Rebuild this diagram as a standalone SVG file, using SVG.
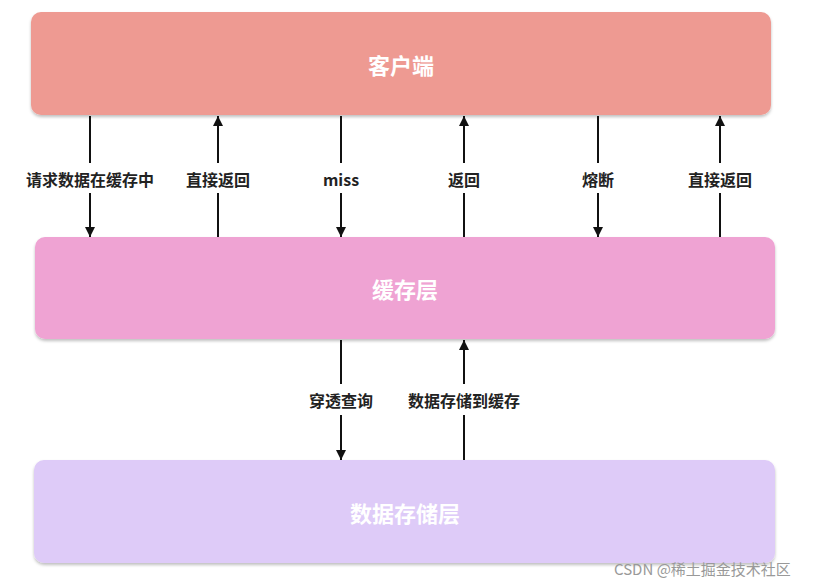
<svg xmlns="http://www.w3.org/2000/svg" width="816" height="586" viewBox="0 0 816 586">
<style>
.box{stroke:none}
.t{font-family:"Noto Sans CJK SC","Noto Sans",sans-serif;font-size:22px;font-weight:bold;fill:#fff;text-anchor:middle;dominant-baseline:central}
.l{font-family:"Noto Sans CJK SC","Noto Sans",sans-serif;font-size:16px;font-weight:bold;fill:#222;text-anchor:middle;dominant-baseline:central}
.c{stroke:#111;stroke-width:2;fill:none}
.wm{font-family:"Noto Sans CJK SC","Liberation Sans",sans-serif;font-size:15px;fill:#999}
</style>
<defs>
<marker id="ah" viewBox="0 0 10 10" refX="10" refY="5" markerWidth="5" markerHeight="5" orient="auto" markerUnits="strokeWidth">
<path d="M0,0 L10,5 L0,10 z" fill="#111"/>
</marker>
<filter id="sh" x="-5%" y="-10%" width="110%" height="130%">
<feDropShadow dx="0" dy="2" stdDeviation="1.5" flood-color="#000" flood-opacity="0.25"/>
</filter>
</defs>
<rect width="816" height="586" fill="#fff"/>
<g id="client">
<rect class="box" x="31" y="12" width="740" height="103" rx="10" fill="#EE9A92" filter="url(#sh)"/>
<text class="t" x="401" y="64">客户端</text>
</g>
<g id="cache">
<rect class="box" x="35" y="237" width="740" height="102" rx="10" fill="#EFA3D3" filter="url(#sh)"/>
<text class="t" x="405" y="288">缓存层</text>
</g>
<g id="storage">
<rect class="box" x="34" y="460" width="741" height="103" rx="10" fill="#DECBF8" filter="url(#sh)"/>
<text class="t" x="405" y="512">数据存储层</text>
</g>
<g id="connectors">
<path class="c" d="M90,116 V163 M90,193 V237" marker-end="url(#ah)"/>
<path class="c" d="M218,237 V193 M218,163 V116" marker-end="url(#ah)"/>
<path class="c" d="M341,116 V163 M341,193 V237" marker-end="url(#ah)"/>
<path class="c" d="M464,237 V193 M464,163 V116" marker-end="url(#ah)"/>
<path class="c" d="M598,116 V163 M598,193 V237" marker-end="url(#ah)"/>
<path class="c" d="M720,237 V193 M720,163 V116" marker-end="url(#ah)"/>
<path class="c" d="M341,340 V384 M341,415 V460" marker-end="url(#ah)"/>
<path class="c" d="M464,460 V415 M464,384 V340" marker-end="url(#ah)"/>
<text class="l" x="90" y="179">请求数据在缓存中</text>
<text class="l" x="218" y="179">直接返回</text>
<text class="l" x="341" y="179">miss</text>
<text class="l" x="464" y="179">返回</text>
<text class="l" x="598" y="179">熔断</text>
<text class="l" x="720" y="179">直接返回</text>
<text class="l" x="341" y="400">穿透查询</text>
<text class="l" x="464" y="400">数据存储到缓存</text>
</g>
<text class="wm" x="614" y="575">CSDN @稀土掘金技术社区</text>
</svg>
